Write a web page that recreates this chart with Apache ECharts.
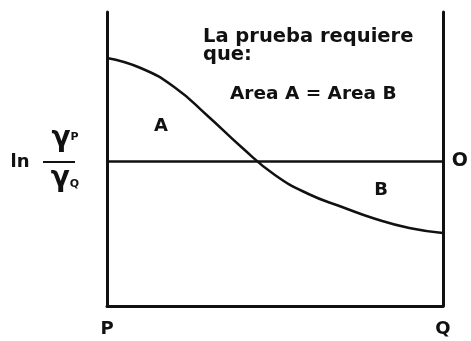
<!DOCTYPE html>
<html>
<head>
<meta charset="utf-8">
<script src="https://cdn.jsdelivr.net/npm/echarts@6/dist/echarts.min.js"></script>
<style>
  html, body { margin: 0; padding: 0; background: #ffffff; }
  #chart { width: 471px; height: 341px; }
</style>
</head>
<body>
<div id="chart"></div>
<script>
// Position along P–Q (0 = P, 100 = Q)
const xVals = [0, 10, 20, 30, 40, 50, 60, 70, 80, 90, 100];
// ln(γP/γQ) along the composition range
const curveVals = [1.03, 0.93, 0.74, 0.45, 0.14, -0.14, -0.33, -0.46, -0.58, -0.67, -0.72];
// End labels of the composition axis
const xTickLabels = ['P', 'Q'];
const zeroLabel = 'O';

const FONT = 'DejaVu Sans';
const INK = '#111111';

const chart = echarts.init(document.getElementById('chart'), null, { renderer: 'canvas' });

const axisLineStyle = { color: INK, width: 3 };

chart.setOption({
  backgroundColor: '#ffffff',
  animation: false,
  grid: { left: 107, right: 27, top: 12, bottom: 35 },
  xAxis: {
    type: 'value',
    min: 0,
    max: 100,
    interval: 100,
    axisLine: { show: true, onZero: false, lineStyle: axisLineStyle },
    axisTick: { show: false },
    splitLine: { show: false },
    axisLabel: {
      margin: 14,
      color: INK,
      fontFamily: FONT,
      fontWeight: 'bold',
      fontSize: 18,
      formatter: v => xTickLabels[Math.round(v / 100)]
    }
  },
  yAxis: [
    {
      type: 'value',
      min: -1.45,
      max: 1.49,
      position: 'left',
      axisLine: { show: true, onZero: false, lineStyle: axisLineStyle },
      axisTick: { show: false },
      splitLine: { show: false },
      axisLabel: { show: false }
    },
    {
      type: 'value',
      min: -1.45,
      max: 1.49,
      position: 'right',
      axisLine: { show: true, onZero: false, lineStyle: axisLineStyle },
      axisTick: { show: false },
      splitLine: { show: false },
      axisLabel: {
        show: true,
        customValues: [0],
        margin: 9,
        color: INK,
        fontFamily: FONT,
        fontWeight: 'bold',
        fontSize: 19,
        formatter: () => zeroLabel
      }
    }
  ],
  series: [
    {
      type: 'line',
      data: xVals.map((x, i) => [x, curveVals[i]]),
      smooth: 0.5,
      showSymbol: false,
      lineStyle: { color: INK, width: 2.5 },
      markLine: {
        silent: true,
        symbol: ['none', 'none'],
        label: { show: false },
        lineStyle: { color: INK, width: 2.5, type: 'solid' },
        data: [{ yAxis: 0 }]
      }
    }
  ],
  graphic: [
    {
      type: 'text', left: 203, top: 27,
      style: { text: 'La prueba requiere', fill: INK, font: 'bold 19.5px "' + FONT + '"' }
    },
    {
      type: 'text', left: 203, top: 45,
      style: { text: 'que:', fill: INK, font: 'bold 19.5px "' + FONT + '"' }
    },
    {
      type: 'text', left: 230, top: 85,
      style: { text: 'Area A = Area B', fill: INK, font: 'bold 18.5px "' + FONT + '"' }
    },
    {
      type: 'text', x: 161, y: 126,
      style: { text: 'A', fill: INK, font: 'bold 18px "' + FONT + '"', align: 'center', verticalAlign: 'middle' }
    },
    {
      type: 'text', x: 381, y: 190,
      style: { text: 'B', fill: INK, font: 'bold 18px "' + FONT + '"', align: 'center', verticalAlign: 'middle' }
    },
    {
      type: 'text', x: 20, y: 162,
      style: { text: 'ln', fill: INK, font: 'bold 18px "' + FONT + '"', align: 'center', verticalAlign: 'middle' }
    },
    {
      type: 'line',
      shape: { x1: 43, y1: 162, x2: 75, y2: 162 },
      style: { stroke: INK, lineWidth: 2 }
    },
    {
      type: 'text', x: 65, y: 139,
      style: {
        text: '{g|γ}{s|P}',
        align: 'center', verticalAlign: 'middle',
        rich: {
          g: { fill: INK, font: 'bold 28px "' + FONT + '"' },
          s: { fill: INK, font: 'bold 11px "' + FONT + '"', padding: [0, 0, 4, 0] }
        }
      }
    },
    {
      type: 'text', x: 65, y: 179,
      style: {
        text: '{g|γ}{s|Q}',
        align: 'center', verticalAlign: 'middle',
        rich: {
          g: { fill: INK, font: 'bold 28px "' + FONT + '"' },
          s: { fill: INK, font: 'bold 11px "' + FONT + '"', padding: [10, 0, 0, 0] }
        }
      }
    }
  ]
});
</script>
</body>
</html>
